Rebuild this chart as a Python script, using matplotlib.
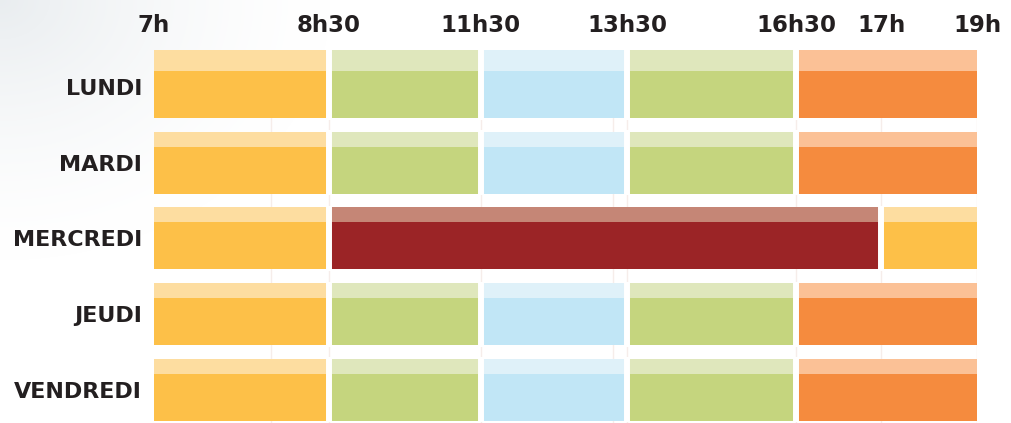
import numpy as np
import matplotlib
matplotlib.use('Agg')
from matplotlib import pyplot as plt

# --- data ---
days = ['LUNDI', 'MARDI', 'MERCREDI', 'JEUDI', 'VENDREDI']
tick_hours = [7, 8.5, 11.5, 13.5, 16.5, 17, 19]
tick_labels = ['7h', '8h30', '11h30', '13h30', '16h30', '17h', '19h']

# (start, end, kind) for each day
normal_day = [(7, 8.5, 'garderie'), (8.5, 11.5, 'classe'), (11.5, 13.5, 'repas'),
              (13.5, 16.5, 'classe'), (16.5, 19, 'etude')]
wednesday = [(7, 8.5, 'garderie'), (8.5, 17, 'centre'), (17, 19, 'garderie')]
schedule = [normal_day, normal_day, wednesday, normal_day, normal_day]

# dark / light colours per kind
colors = {
    'garderie': ('#FDC048', '#FDDDA0'),
    'classe': ('#C5D57E', '#DFE7BC'),
    'repas': ('#C1E6F6', '#DFF1F9'),
    'etude': ('#F58B3E', '#FBC196'),
    'centre': ('#9B2426', '#C58676'),
}

# the time axis is not linear: pixel position of each tick hour
px_pos = [154, 329, 480.5, 627.5, 796, 881.5, 977]


def fwd(x):
    return np.interp(x, tick_hours, px_pos)


def inv(x):
    return np.interp(x, px_pos, tick_hours)


W, H = 1011, 423
fig = plt.figure(figsize=(W / 100, H / 100), dpi=100)

# soft grey shading in the top-left corner
bg = fig.add_axes([0, 0, 1, 1], zorder=-10)
yy, xx = np.mgrid[0:H, 0:W]
d = np.sqrt((xx / 330.0) ** 2 + (yy / 260.0) ** 2)
shade = np.clip(1 - d, 0, 1) ** 1.5
img = np.ones((H, W, 3))
img -= shade[..., None] * np.array([0.085, 0.07, 0.06])
bg.imshow(img, aspect='auto', extent=(0, W, H, 0))
bg.axis('off')

ax = fig.add_axes([154 / W, 0, (977 - 154) / W, 1])
ax.patch.set_alpha(0)
ax.set_xscale('function', functions=(fwd, inv))
ax.set_xlim(7, 19)
row_px = 75.7
ax.set_ylim((H - 87) / row_px, -87 / row_px)

half = 31 / row_px
strip = 15 / row_px
extra = 6 / row_px  # first row has a slightly taller top strip

# faint vertical guides
ax.vlines([8, 8.5, 11.5, 13.3, 13.5, 16.5, 17, 19], -half - extra, 5,
          color='#F6EDEA', lw=1, zorder=0)

for i, segs in enumerate(schedule):
    top = i - half - (extra if i == 0 else 0)
    for start, end, kind in segs:
        dark, light = colors[kind]
        ax.barh(i + strip / 2, end - start, left=start, height=2 * half - strip,
                color=dark, zorder=2)
        ax.barh((top + i - half + strip) / 2, end - start, left=start,
                height=i - half + strip - top, color=light, zorder=2)
    # white gaps between blocks
    for start, end, kind in segs[1:]:
        ax.plot([start, start], [top - 0.02, i + half + 0.02], color='white',
                lw=4.3, solid_capstyle='butt', zorder=3)

ax.set_yticks(range(len(days)))
ax.set_yticklabels(days, fontsize=16, fontweight='bold', family='DejaVu Sans',
                   color='#231F20')
ax.tick_params(axis='y', length=0, pad=8.5)
ax.set_xticks([])
for h, lab in zip(tick_hours, tick_labels):
    ax.text(h, -55 / row_px, lab, ha='center', va='baseline', fontsize=16.5,
            fontweight='bold', family='DejaVu Sans', color='#231F20')

for s in ax.spines.values():
    s.set_visible(False)

fig.savefig('out.png', dpi=100)
